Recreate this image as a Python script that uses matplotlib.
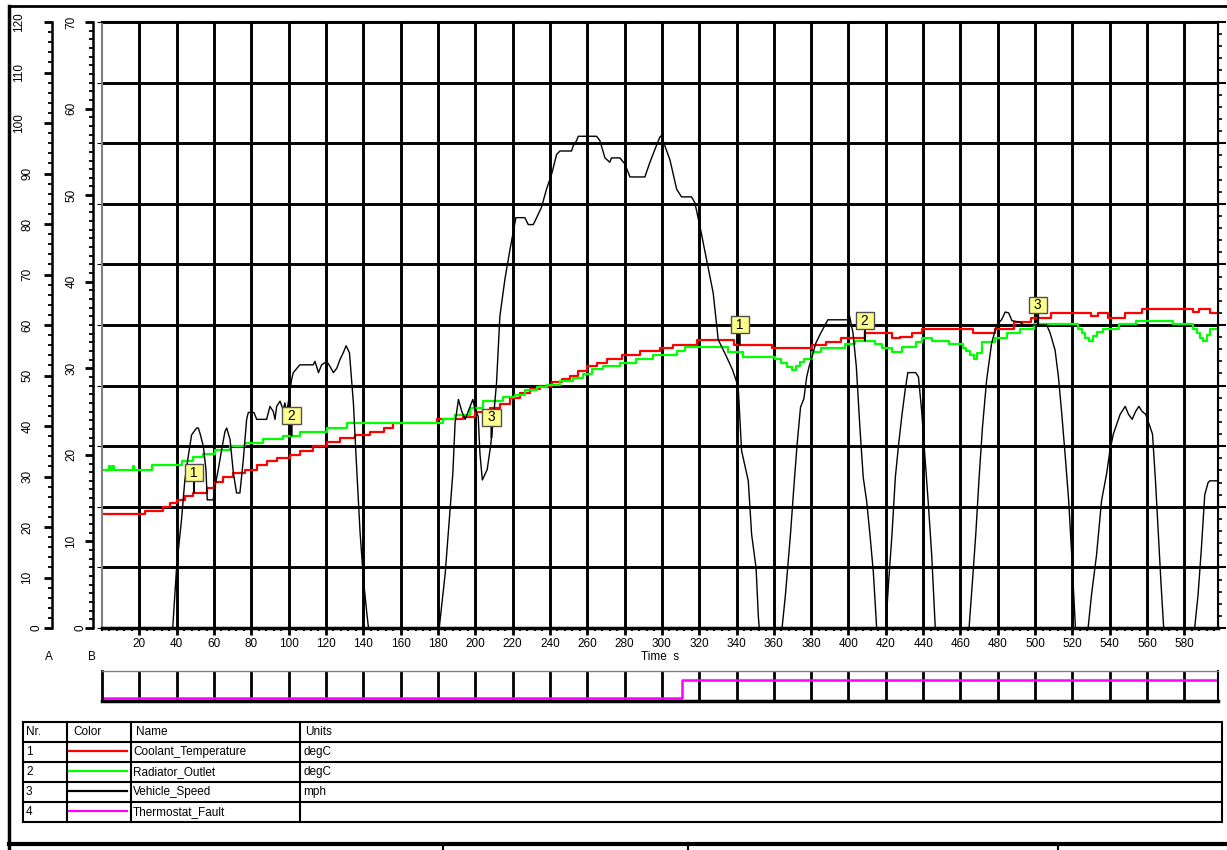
import numpy as np
import matplotlib
matplotlib.use('Agg')
import matplotlib.pyplot as plt
from matplotlib.ticker import MultipleLocator
from matplotlib.transforms import blended_transform_factory

plt.rcParams['font.family'] = ['Liberation Sans', 'DejaVu Sans']
plt.rcParams['font.size'] = 8.5

# ---------------- data (time in s) ----------------
# Coolant_Temperature, degC (stepped signal)
coolant = [(0, 22.6), (23.0, 23.1), (32.9, 23.9), (36.4, 24.7), (40.0, 25.4), (44.5, 26.2),
           (48.9, 26.8), (56.1, 27.7), (60.5, 29.0), (65.0, 30.0), (70.4, 30.7), (76.6, 31.3),
           (82.9, 32.2), (88.2, 33.0), (93.6, 33.7), (100.7, 34.3), (106.1, 35.1), (113.2, 36.0),
           (120.4, 36.8), (127.5, 37.6), (135.6, 38.3), (143.6, 38.9), (151.0, 39.7), (156.1, 40.5),
           (179.3, 41.3), (193.6, 41.8), (199.7, 42.7), (207.7, 43.6), (213.2, 44.4), (218.6, 45.6),
           (223.9, 46.6), (229.3, 47.3), (234.6, 48.0), (240.9, 48.7), (246.3, 49.3), (250.7, 50.0),
           (255.2, 50.8), (259.7, 51.8), (265.0, 52.5), (270.4, 53.3), (278.4, 54.0), (288.2, 54.8),
           (298.9, 55.5), (306.1, 56.1), (318.6, 57.0), (338.9, 56.1), (358.9, 55.5), (380.6, 56.1),
           (387.9, 56.7), (396.1, 57.5), (408.8, 58.4), (423.3, 57.5), (427.8, 57.7), (434.1, 58.4),
           (439.6, 59.2), (466.8, 58.5), (478.6, 59.2), (488.5, 60.5), (497.6, 61.3), (508.5, 62.3),
           (530.2, 61.7), (533.8, 62.3), (539.3, 61.3), (548.3, 62.3), (557.4, 63.1), (584.6, 62.5),
           (588.0, 63.1), (593.6, 62.3), (598, 62.3)]

# Radiator_Outlet, degC (stepped signal)
radiator = [(0, 31.3), (3.5, 32.1), (4.3, 31.3), (5.6, 32.1), (6.4, 31.3), (16.5, 32.1), (17.3, 31.3),
            (26.6, 32.2), (42.7, 33.0), (49.0, 33.8), (54.3, 34.5), (60.5, 35.2), (68.6, 36.0),
            (76.6, 36.6), (86.4, 37.5), (97.1, 38.1), (106.1, 38.8), (120.4, 39.6), (131.1, 40.5),
            (182.9, 41.4), (189.1, 42.2), (197.1, 43.6), (204.3, 44.9), (215.0, 45.7), (221.2, 46.2),
            (226.6, 47.2), (232.9, 47.7), (238.2, 48.2), (245.4, 48.9), (252.5, 49.5), (257.9, 50.2),
            (262.3, 51.2), (268.6, 51.8), (277.5, 52.5), (286.4, 53.2), (295.4, 54.0), (307.9, 54.8),
            (312.3, 55.6), (335.4, 54.7), (343.6, 53.7), (360.8, 53.2), (364.0, 52.4), (367.0, 51.6),
            (369.5, 51.0), (372.0, 51.8), (374.0, 52.6), (376.2, 53.2), (380.7, 54.7), (385.2, 55.5),
            (397.9, 56.2), (403.3, 56.9), (414.2, 56.2), (417.8, 55.5), (423.3, 54.7), (428.7, 55.7),
            (436.0, 56.7), (439.6, 57.5), (445.0, 56.9), (454.0, 56.2), (461.3, 55.5), (463.0, 54.8),
            (465.0, 54.0), (467.0, 53.2), (469.0, 54.5), (471.3, 56.7), (478.5, 57.5), (484.9, 58.4),
            (492.1, 59.2), (499.4, 60.1), (522.9, 59.2), (525.0, 58.4), (527.0, 57.5), (529.0, 56.9),
            (531.0, 57.8), (533.0, 58.6), (536.5, 59.2), (544.7, 60.1), (553.8, 60.8), (573.7, 60.1),
            (584.6, 59.2), (586.5, 58.4), (588.2, 57.5), (590.0, 56.9), (592.0, 58.0), (593.6, 59.2),
            (598, 59.2)]

# Vehicle_Speed, mph
speed = [(0, 0), (37.9, 0), (40, 7.1), (42.6, 12.5), (44.4, 17.1), (46.2, 19.8), (48, 22.3),
         (50.7, 23.1), (51.6, 23.1), (52.5, 22.5), (54.3, 21.0), (55.7, 18.3), (56.4, 14.8),
         (59.6, 14.8), (60.5, 16.3), (62.3, 18.3), (64.1, 20.6), (65.9, 22.7), (66.8, 23.1),
         (68.6, 21.8), (70.4, 17.9), (72.1, 15.6), (73.9, 15.6), (75.7, 19.4), (77.5, 24.1),
         (78.4, 24.9), (81.4, 24.9), (82.9, 24.1), (88.2, 24.1), (90, 25.6), (91.8, 25.0),
         (92.7, 24.1), (93.6, 25.6), (95.4, 26.2), (97.1, 25.2), (98, 26.0), (98.9, 24.9),
         (99.8, 26.0), (101.6, 28.7), (102.5, 29.5), (105.2, 30.2), (106.1, 30.4), (113.2, 30.4),
         (114.1, 30.8), (116, 29.5), (117.7, 30.4), (120.4, 30.8), (122.2, 30.2), (124, 29.5),
         (125.8, 30.0), (127.5, 31.0), (129.3, 31.8), (130.8, 32.6), (132.6, 31.8), (134.7, 26.0),
         (136.5, 18.3), (138.3, 11.0), (140.1, 5.6), (141.9, 1.7), (142.8, 0),
         (180.7, 0), (183.9, 6.3), (186.5, 13.7), (188, 17.9), (189.2, 23.7), (191, 26.4),
         (192.8, 25.0), (194.6, 24.1), (197.3, 25.6), (198.7, 26.4), (199.5, 25.6), (201.6, 24.4),
         (202.5, 20.2), (203.8, 17.1), (206.4, 18.3), (208.2, 21.0), (209.7, 24.1), (211.4, 28.3),
         (213.2, 36.0), (215.9, 40.3), (218.6, 43.7), (220.3, 45.7), (221.8, 47.4), (226.6, 47.4),
         (228.4, 46.6), (231.1, 46.6), (232.9, 47.4), (235.5, 48.6), (238.2, 50.7), (240.9, 52.4),
         (243.6, 54.7), (245.4, 55.1), (251.6, 55.1), (252.5, 55.7), (254.3, 56.3), (255.2, 56.8),
         (265, 56.8), (266.8, 56.3), (269.5, 54.3), (272.1, 53.8), (273, 54.3), (277.5, 54.3),
         (280.2, 53.6), (282.9, 52.1), (290.9, 52.1), (293.6, 53.8), (296.3, 55.3), (298.9, 56.7),
         (299.8, 56.9), (301.6, 55.7), (304.3, 54.1), (307.9, 50.7), (310.5, 49.8), (315.9, 49.8),
         (317.7, 49.1), (320.4, 46.4), (323.9, 42.6), (327.5, 38.7), (330.2, 33.3), (334.3, 31.5),
         (337.9, 29.8), (340.9, 27.9), (342.7, 20.5), (346.3, 17.0), (348.1, 10.8), (350.5, 6.9),
         (351.7, 1.3), (352.2, 0),
         (364.4, 0), (366.2, 3.8), (368.9, 10.8), (370.7, 16.2), (372.5, 21.3), (374.3, 25.5),
         (376.1, 26.5), (377.6, 29.0), (378.9, 30.2), (380.7, 31.5), (382.5, 32.9), (385.2, 34.1),
         (387, 34.8), (388.9, 35.6), (399.7, 35.6), (400.2, 36.4), (401, 35.6), (402.4, 34.1),
         (404.2, 30.2), (406.1, 23.2), (407.9, 17.4), (409.7, 14.7), (411.5, 10.8), (413.3, 6.5),
         (415.1, 0),
         (420, 0), (421.4, 5.0), (423.3, 10.8), (425.1, 17.4), (426.9, 21.3), (428.7, 24.7),
         (430.5, 27.7), (431.8, 29.5), (436, 29.5), (437.5, 29.0), (439.2, 25.1), (441, 19.7),
         (442.8, 14.3), (444.6, 8.4), (446.5, 0),
         (464.6, 0), (466.4, 5.3), (468.2, 10.8), (470, 17.4), (471.8, 23.2), (474, 28.6),
         (476.7, 32.9), (479.4, 35.0), (482, 35.6), (484, 36.5), (485.8, 36.4), (487.6, 35.5),
         (492.1, 35.3), (494, 35.0), (506.2, 35.0), (508, 34.1), (510.7, 32.1), (512.5, 29.0),
         (514.3, 24.7), (516.2, 19.7), (518, 14.7), (519.8, 7.7), (521.6, 0),
         (528.4, 0), (530.2, 3.8), (532.9, 8.4), (535.6, 14.7), (538.3, 17.8), (540.1, 20.5),
         (541.9, 22.4), (543.8, 23.6), (545.6, 24.7), (548.3, 25.6), (550, 24.7), (552, 24.1),
         (553.8, 25.0), (555.6, 25.6), (557.4, 25.0), (559.2, 24.7), (561, 23.6), (562.9, 22.4),
         (564.5, 17.0), (566, 11.0), (567.5, 5.0), (568.9, 0),
         (585.5, 0), (587.3, 3.8), (589.1, 9.2), (590.9, 15.4), (592.7, 16.8), (593.6, 17.0),
         (598, 17.0)]

# Thermostat_Fault (0/1)
fault_t = [0, 311, 598]
fault_v = [0, 1, 1]

# legend table
nrs = ['1', '2', '3', '4']
names = ['Coolant_Temperature', 'Radiator_Outlet', 'Vehicle_Speed', 'Thermostat_Fault']
units = ['degC', 'degC', 'mph', '']
colors = ['#ff0000', '#00ff00', '#000000', '#ff00ff']

# cursor markers: series number and time
cursor_nr = [1, 2, 3, 1, 2, 3]
cursor_t = [49.3, 101.6, 208.7, 341.7, 408.8, 501.6]

cool_t, cool_v = map(np.array, zip(*coolant))
rad_t, rad_v = map(np.array, zip(*radiator))
spd_t, spd_v = map(np.array, zip(*speed))

# ---------------- figure ----------------
W, H = 1227, 850
fig = plt.figure(figsize=(W / 100, H / 100), dpi=100)


def px_box(x0, y0, x1, y1):
    return [x0 / W, 1 - y1 / H, (x1 - x0) / W, (y1 - y0) / H]


X0, X1, Y0, Y1 = 102, 1218, 22, 628
TMAX = 598

# overlay in pixel units for frame, table and scale labels
fr = fig.add_axes([0, 0, 1, 1], zorder=-1)
fr.set_xlim(0, W)
fr.set_ylim(H, 0)
fr.set_axis_off()

ax = fig.add_axes(px_box(X0, Y0, X1, Y1))
ax.set_xlim(0, TMAX)
ax.set_ylim(0, 120)
ax.set_xticks(np.arange(20, 581, 20))
ax.xaxis.set_minor_locator(MultipleLocator(4))
ax.set_yticks(np.linspace(0, 120, 11))
ax.tick_params(axis='y', left=False, labelleft=False)
ax.tick_params(axis='x', which='major', direction='out', length=5, width=2, pad=2, labelsize=8.5)
ax.tick_params(axis='x', which='minor', direction='out', length=2.5, width=1.5)
ax.grid(True, which='major', color='black', lw=2.1)
ax.set_axisbelow(True)
ax.set_xlabel('Time  s', labelpad=1, fontsize=8.5)
ax.spines['left'].set_color('#808080')
ax.spines['left'].set_linewidth(1.5)
ax.spines['top'].set_linewidth(1.5)
ax.spines['right'].set_linewidth(1.5)
ax.spines['bottom'].set_linewidth(2.5)

ax.step(cool_t, cool_v, where='post', color=colors[0], lw=1.6)
ax.step(rad_t, rad_v, where='post', color=colors[1], lw=1.6)


def left_scale(axis, top, major, minor, spine_px, label_right_px):
    axis.set_ylim(0, top)
    for s in ['right', 'top', 'bottom']:
        axis.spines[s].set_visible(False)
    sp = axis.spines['left']
    sp.set_visible(True)
    sp.set_position(('axes', (spine_px - X0) / (X1 - X0)))
    sp.set_linewidth(1.8)
    axis.yaxis.set_ticks_position('left')
    ticks = np.arange(0, top + 0.1, major)
    axis.set_yticks(ticks)
    axis.yaxis.set_minor_locator(MultipleLocator(minor))
    axis.tick_params(axis='y', which='major', direction='out', length=6, width=2, labelleft=False)
    axis.tick_params(axis='y', which='minor', direction='out', length=3, width=1.3)
    # the source program shifts longer rotated labels further left
    tr = blended_transform_factory(fr.transData, axis.transData)
    for t in ticks:
        s = f'{t:g}'
        fr.text(label_right_px - 8.5 * (len(s) - 1), t, s, transform=tr, rotation=90,
                ha='right', va='center', fontsize=8.5)


axA = ax.twinx()
left_scale(axA, 120, 10, 2, 52, 42)

axB = ax.twinx()
left_scale(axB, 70, 10, 1, 93, 86)
axB.plot(spd_t, spd_v, color=colors[2], lw=1.0)

# right-hand scale, its labels lie outside the picture
axR = ax.twinx()
axR.set_ylim(0, 100)
for s in ['left', 'top', 'bottom']:
    axR.spines[s].set_visible(False)
axR.set_yticks(np.arange(0, 101, 10))
axR.yaxis.set_minor_locator(MultipleLocator(2))
axR.tick_params(axis='y', which='major', direction='out', length=6, width=1.5, labelright=False)
axR.tick_params(axis='y', which='minor', direction='out', length=3, width=1.2)

# cursor markers
series_t = {1: cool_t, 2: rad_t}
series_v = {1: cool_v, 2: rad_v}
for nr, t in zip(cursor_nr, cursor_t):
    if nr == 3:
        v = np.interp(t, spd_t, spd_v)
        trans = axB.transData
    else:
        st, sv = series_t[nr], series_v[nr]
        v = sv[np.searchsorted(st, t, side='right') - 1]
        trans = ax.transData
    axR.annotate(f' {nr} ', xy=(t, v), xycoords=trans, xytext=(0, 20), textcoords='offset pixels',
                 ha='center', va='center', fontsize=10,
                 bbox=dict(boxstyle='square,pad=0.1', fc='#ffff8c', ec='#505050', lw=1),
                 arrowprops=dict(arrowstyle='-', color='black', lw=1.5, shrinkA=0, shrinkB=0))

# ---------------- thermostat strip ----------------
axS = fig.add_axes(px_box(X0, 671, X1, 701))
axS.set_xlim(0, TMAX)
axS.set_ylim(-0.15, 1.49)
axS.set_xticks(np.arange(20, 581, 20))
axS.set_yticks([])
axS.tick_params(axis='x', length=0, labelbottom=False)
axS.grid(True, axis='x', color='black', lw=2)
axS.set_axisbelow(True)
axS.step(fault_t, fault_v, where='post', color=colors[3], lw=1.8)
axS.spines['top'].set_color('#808080')
axS.spines['top'].set_linewidth(1)
axS.spines['bottom'].set_linewidth(2.5)
axS.spines['left'].set_linewidth(2)
axS.spines['right'].set_linewidth(1.5)

# ---------------- frame, axis letters and legend table ----------------
fr.plot([9, 9], [6, H], color='black', lw=2.5)
fr.plot([9, W], [6, 6], color='black', lw=2)
fr.plot([9, W], [844, 844], color='black', lw=3)
for xv in [443, 688, 1058]:
    fr.plot([xv, xv], [844, H], color='black', lw=1.5)

fr.text(49, 657, 'A', ha='center', va='center', fontsize=8.5)
fr.text(92, 657, 'B', ha='center', va='center', fontsize=8.5)

row_y = [722, 742, 762, 782, 802, 822]
col_x = [23, 67, 131, 300, 1222]
for yv in row_y:
    fr.plot([col_x[0], col_x[-1]], [yv, yv], color='black', lw=1.5)
for xv in col_x:
    fr.plot([xv, xv], [row_y[0], row_y[-1]], color='black', lw=1.5)

headers = ['Nr.', 'Color', 'Name', 'Units']
for x, h in zip([26, 73, 136, 305], headers):
    fr.text(x, (row_y[0] + row_y[1]) / 2, h, ha='left', va='center', fontsize=8.5)
for i in range(4):
    yc = (row_y[i + 1] + row_y[i + 2]) / 2
    fr.text(26, yc, nrs[i], ha='left', va='center', fontsize=8.5)
    fr.plot([69, 127], [yc - 1.5, yc - 1.5], color=colors[i], lw=1.6)
    fr.text(133, yc, names[i], ha='left', va='center', fontsize=8.5)
    fr.text(303, yc, units[i], ha='left', va='center', fontsize=8.5)

fig.savefig('out.png', dpi=100)
